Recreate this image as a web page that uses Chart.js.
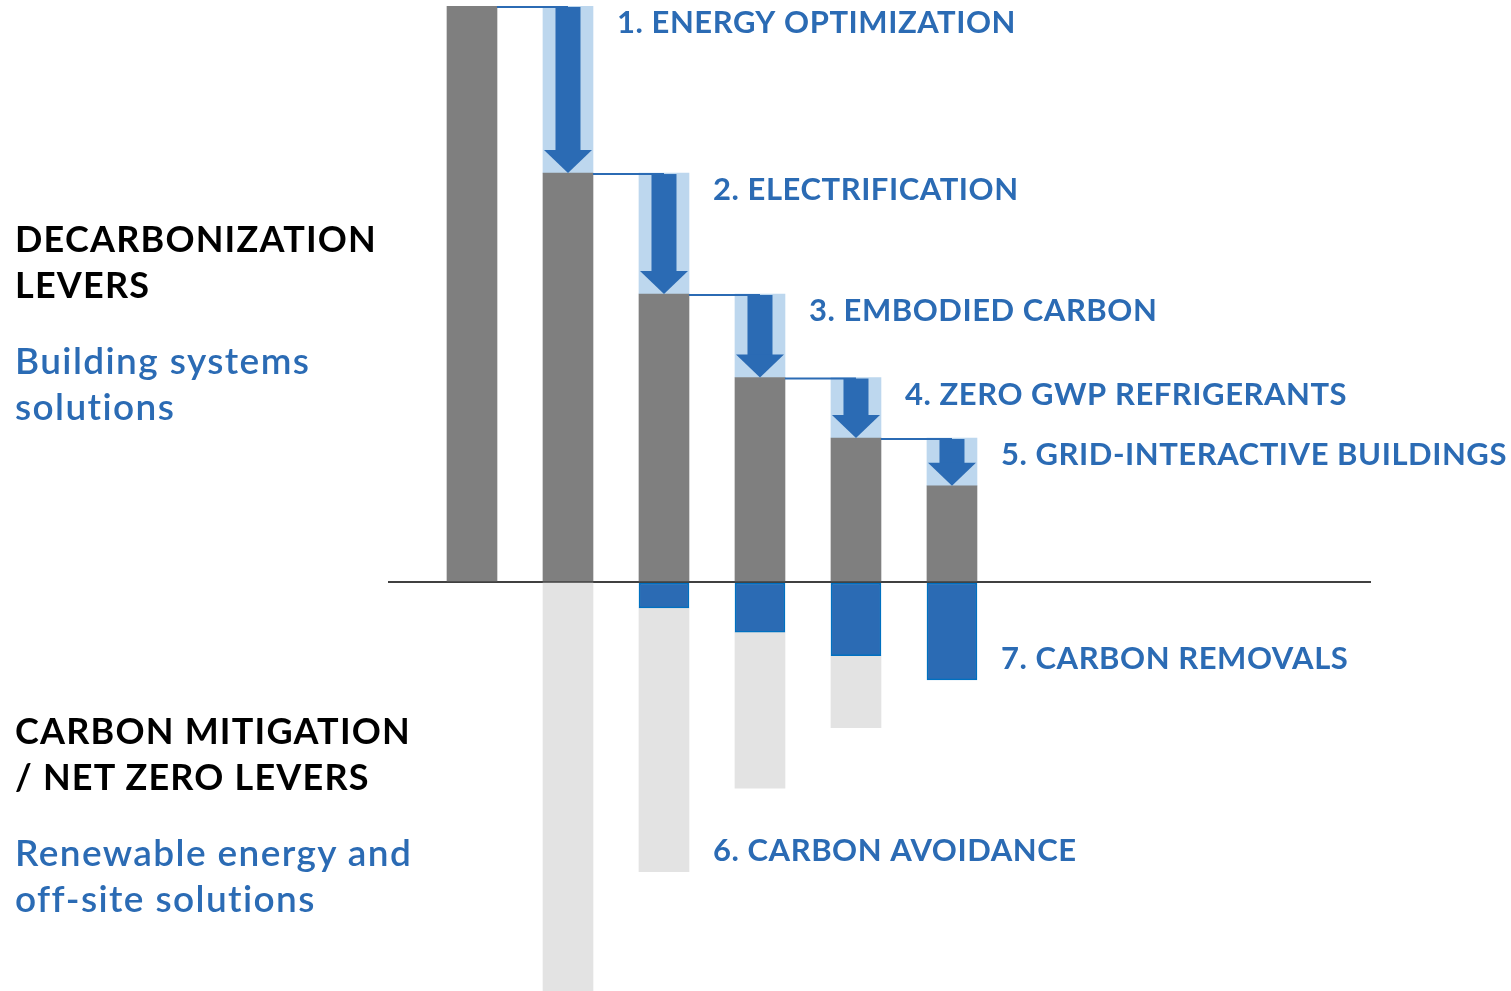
<!DOCTYPE html>
<html>
<head>
<meta charset="utf-8">
<title>Decarbonization levers</title>
<script src="https://cdn.jsdelivr.net/npm/chart.js@4.4.1/dist/chart.umd.min.js"></script>
<style>
  html, body { margin: 0; padding: 0; background: #fff; }
  #wrap { position: relative; width: 1511px; height: 991px; overflow: hidden; }
  #chart { position: absolute; left: 0; top: 0; }
  .side { position: absolute; left: 15px; font-family: Lato, "Noto Sans", sans-serif; line-height: 46px; white-space: nowrap; }
  .head { color: #000; font-weight: 700; font-size: 36px; letter-spacing: 1.2px; }
  .sub { color: #2b6bb4; font-weight: 600; font-size: 37px; letter-spacing: 1.4px; }
</style>
</head>
<body>
<div id="wrap">
  <canvas id="chart" width="1511" height="991"></canvas>
  <div class="side head" style="top:215px">DECARBONIZATION<br>LEVERS</div>
  <div class="side sub" style="top:337px">Building systems<br>solutions</div>
  <div class="side head" style="top:707px">CARBON MITIGATION<br>/ NET ZERO LEVERS</div>
  <div class="side sub" style="top:829px">Renewable energy and<br>off-site solutions</div>
</div>
<script>
// Emissions left after each step (baseline = 100)
const categories = ["Baseline", "Energy optimization", "Electrification", "Embodied carbon", "Zero GWP refrigerants", "Grid-interactive buildings"];
const remaining = [100, 71, 50, 35.5, 25, 16.7];
// Offsets below the line
const removals = [0, 0, 4.5, 8.7, 12.8, 17];
const avoidance = [0, 71, 45.8, 27.1, 12.5, 0];

const leverLabels = ["", "1. ENERGY OPTIMIZATION", "2. ELECTRIFICATION", "3. EMBODIED CARBON", "4. ZERO GWP REFRIGERANTS", "5. GRID-INTERACTIVE BUILDINGS"];
const avoidanceLabel = "6. CARBON AVOIDANCE";
const removalsLabel = "7. CARBON REMOVALS";

const BLUE = "#2b6bb4";

// bars
const grayBars = remaining.map((v, i) => ({ x: i, y: [0, v] }));
const reductionBars = [];
for (let i = 1; i < remaining.length; i++) {
  reductionBars.push({ x: i, y: [remaining[i], remaining[i - 1]] });
}
const removalBars = [];
const avoidanceBars = [];
removals.forEach((r, i) => {
  if (r > 0) removalBars.push({ x: i, y: [-r, 0] });
  if (avoidance[i] > 0) avoidanceBars.push({ x: i, y: [-r - avoidance[i], -r] });
});

// arrows, connectors and the lever labels
const leverPlugin = {
  id: "levers",
  afterDatasetsDraw(chart) {
    const ctx = chart.ctx;
    const grayMeta = chart.getDatasetMeta(0);
    const redMeta = chart.getDatasetMeta(1);
    const remMeta = chart.getDatasetMeta(2);
    const avMeta = chart.getDatasetMeta(3);
    ctx.save();

    // connector from previous bar top to the arrow
    ctx.strokeStyle = BLUE;
    ctx.lineWidth = 2;
    redMeta.data.forEach((box, k) => {
      const prev = grayMeta.data[k];
      const top = Math.min(box.y, box.base);
      ctx.beginPath();
      ctx.moveTo(prev.x + prev.width / 2, top + 1);
      ctx.lineTo(box.x, top + 1);
      ctx.stroke();
    });

    // down arrows
    ctx.fillStyle = BLUE;
    redMeta.data.forEach(box => {
      const top = Math.min(box.y, box.base) + 1;
      const bottom = Math.max(box.y, box.base);
      const headH = 23;
      const shaft = 25;
      const half = box.width / 2 - 1;
      ctx.fillRect(box.x - shaft / 2, top, shaft, bottom - headH - top + 1);
      ctx.beginPath();
      ctx.moveTo(box.x - half, bottom - headH);
      ctx.lineTo(box.x + half, bottom - headH);
      ctx.lineTo(box.x, bottom);
      ctx.closePath();
      ctx.fill();
    });

    // labels
    ctx.font = "700 31px Lato, 'Noto Sans', sans-serif";
    ctx.letterSpacing = "0.55px";
    ctx.textBaseline = "middle";
    ctx.textAlign = "left";
    redMeta.data.forEach((box, k) => {
      const top = Math.min(box.y, box.base);
      ctx.fillText(leverLabels[k + 1], box.x + box.width / 2 + 24, top + 17);
    });
    const av = avMeta.data[1];
    ctx.fillText(avoidanceLabel, av.x + av.width / 2 + 24, Math.max(av.y, av.base) - 21);
    const rm = remMeta.data[remMeta.data.length - 1];
    ctx.fillText(removalsLabel, rm.x + rm.width / 2 + 24, Math.max(rm.y, rm.base) - 21);
    ctx.restore();
  }
};

new Chart(document.getElementById("chart"), {
  type: "bar",
  data: {
    datasets: [
      { label: "Remaining", data: grayBars, backgroundColor: "#7f7f7f" },
      { label: "Reduction", data: reductionBars, backgroundColor: "#bdd7ee" },
      { label: "Carbon removals", data: removalBars, backgroundColor: BLUE, borderColor: "#0070c0", borderWidth: 1.5, borderSkipped: false },
      { label: "Carbon avoidance", data: avoidanceBars, backgroundColor: "#e3e3e3" }
    ]
  },
  options: {
    responsive: false,
    animation: false,
    layout: { padding: { left: 388, right: 140, top: 6, bottom: 0 } },
    datasets: { bar: { barThickness: 50, grouped: false } },
    plugins: { legend: { display: false }, tooltip: { enabled: false } },
    scales: {
      x: { type: "linear", min: -0.875, max: 9.365, offset: false, display: false },
      y: {
        min: -71, max: 100,
        z: 1,
        afterBuildTicks: s => { s.ticks = [{ value: 0 }]; },
        ticks: { display: false },
        border: { display: false },
        grid: { color: "#404040", lineWidth: 2, drawTicks: false }
      }
    }
  },
  plugins: [leverPlugin]
});
</script>
</body>
</html>
